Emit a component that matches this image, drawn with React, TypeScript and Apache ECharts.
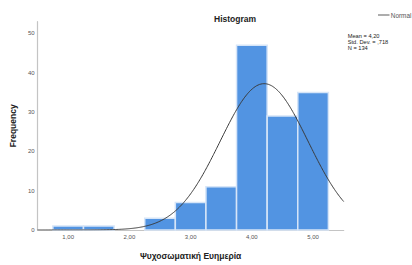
import React, { useEffect, useRef } from "react";
import * as echarts from "echarts";

// Histogram bins (lower edge, upper edge) and frequencies
const binStarts = [0.75, 1.25, 1.75, 2.25, 2.75, 3.25, 3.75, 4.25, 4.75];
const binEnds = [1.25, 1.75, 2.25, 2.75, 3.25, 3.75, 4.25, 4.75, 5.25];
const counts = [1, 1, 0, 3, 7, 11, 47, 29, 35];

// Reported statistics (normal curve parameters)
const statMean = 4.2;
const statSd = 0.718;
const statN = 134;
const statLabels = ["Mean = 4,20", "Std. Dev. = ,718", "N = 134"];

const FONT = "Liberation Sans, Arial, sans-serif";

export default function App() {
  const ref = useRef<HTMLDivElement>(null);

  useEffect(() => {
    if (!ref.current) return;
    const chart = echarts.init(ref.current, undefined, { renderer: "svg" });

    const binWidth = binEnds[0] - binStarts[0];
    const curve: number[][] = [];
    for (let i = 0; i <= 100; i++) {
      const x = 0.5 + i * 0.05;
      const z = (x - statMean) / statSd;
      const y = (statN * binWidth) / (statSd * Math.sqrt(2 * Math.PI)) * Math.exp(-0.5 * z * z);
      curve.push([x, y]);
    }

    const barData = binStarts.map((s, i) => [s, binEnds[i], counts[i]]);

    chart.setOption({
      animation: false,
      textStyle: { fontFamily: FONT },
      title: {
        text: "Histogram",
        left: 209,
        top: 9,
        textStyle: { fontSize: 8.5, fontWeight: "bold", color: "#222", fontFamily: FONT },
      },
      grid: { left: 37, right: 68.3, top: 21.7, bottom: 28.7, containLabel: false },
      xAxis: {
        type: "value",
        min: 0.5,
        max: 5.5,
        interval: 0.5,
        name: "Ψυχοσωματική Ευημερία",
        nameLocation: "middle",
        nameGap: 21,
        nameTextStyle: { fontSize: 8.5, fontWeight: "bold", color: "#222", fontFamily: FONT },
        axisLine: { show: true, lineStyle: { color: "#c4c4c4", width: 1.2 } },
        axisTick: { show: false },
        splitLine: { show: false },
        axisLabel: {
          fontSize: 6,
          color: "#555",
          margin: 4,
          formatter: (v: number) => (Number.isInteger(v) ? v.toFixed(2).replace(".", ",") : ""),
        },
      },
      yAxis: {
        type: "value",
        min: 0,
        max: 53,
        interval: 10,
        name: "Frequency",
        nameLocation: "middle",
        nameGap: 19,
        nameTextStyle: { fontSize: 8.5, fontWeight: "bold", color: "#222", fontFamily: FONT },
        axisLine: { show: true, lineStyle: { color: "#c4c4c4", width: 1.2 } },
        axisTick: { show: false },
        splitLine: { show: false },
        axisLabel: {
          fontSize: 6,
          color: "#555",
          margin: 3,
          formatter: (v: number) => (v % 10 === 0 ? String(v) : ""),
        },
      },
      series: [
        {
          type: "custom",
          name: "Frequency",
          data: barData,
          encode: { x: [0, 1], y: 2 },
          renderItem: (params: any, api: any) => {
            const c = api.value(2);
            if (!c) return null;
            const p0 = api.coord([api.value(0), c]);
            const p1 = api.coord([api.value(1), 0]);
            return {
              type: "rect",
              shape: { x: p0[0], y: p0[1], width: p1[0] - p0[0], height: p1[1] - p0[1] },
              style: { fill: "#5294e2", stroke: "#d6e5f8", lineWidth: 1.5 },
            };
          },
        },
        {
          type: "line",
          name: "Normal",
          data: curve,
          showSymbol: false,
          smooth: true,
          lineStyle: { color: "#3a3a3a", width: 1 },
          z: 5,
        },
      ],
      graphic: [
        {
          type: "line",
          shape: { x1: 378, y1: 15, x2: 389.5, y2: 15 },
          style: { stroke: "#777", lineWidth: 1.2 },
        },
        {
          type: "text",
          x: 390.8,
          y: 15,
          style: {
            text: "Normal",
            fontSize: 6.4,
            fill: "#555",
            fontFamily: FONT,
            verticalAlign: "middle",
          },
        },
        {
          type: "text",
          x: 347.7,
          y: 32.4,
          style: {
            text: statLabels.join("\n"),
            fontSize: 5.7,
            lineHeight: 6.4,
            fill: "#222",
            fontFamily: FONT,
            verticalAlign: "top",
          },
        },
      ],
    });

    return () => chart.dispose();
  }, []);

  return (
    <div
      ref={ref}
      style={{ position: "fixed", left: 0, top: 0, width: 412, height: 265, background: "#fff" }}
    />
  );
}
